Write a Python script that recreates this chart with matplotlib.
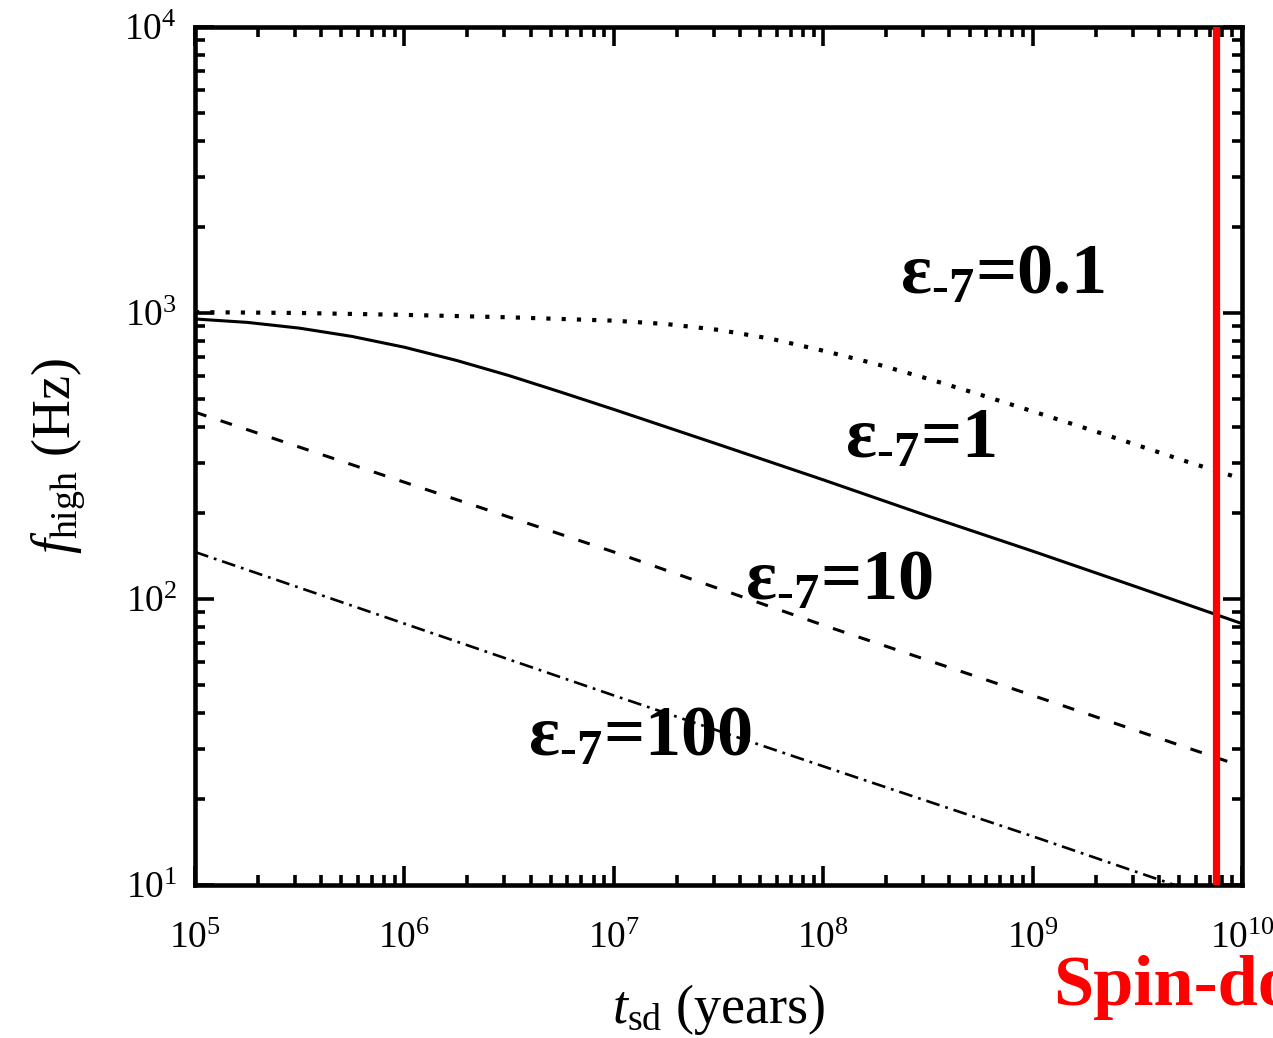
import numpy as np
import matplotlib
matplotlib.use("Agg")
import matplotlib.pyplot as plt
from matplotlib.ticker import LogLocator, NullFormatter

# spin-down time (years) and f_high (Hz)
t_eps01 = [1e5, 3.16e5, 1e6, 3.16e6, 1e7, 1.78e7, 3.16e7, 5.62e7, 1e8, 1.78e8,
           3.16e8, 5.62e8, 1e9, 1.78e9, 3.16e9, 5.62e9, 1e10]
f_eps01 = [1007, 1000, 985, 966, 940, 915, 873, 813, 738, 664,
           589, 518, 453, 396, 345, 300, 263]

t_eps1 = [1e5, 1.78e5, 3.16e5, 5.62e5, 1e6, 1.78e6, 3.16e6, 5.62e6, 1e7,
          3.16e7, 1e8, 3.16e8, 1e9, 3.16e9, 1e10]
f_eps1 = [953, 927, 885, 828, 759, 682, 604, 528, 460,
          347, 261, 195, 147, 110, 82]

t_eps10 = [1e5, 1e6, 1e7, 1e8, 1e9, 1e10]
f_eps10 = [450, 256, 146, 81, 46, 26]

t_eps100 = [1e5, 1e6, 1e7, 1e8, 1e9, 1e10]
f_eps100 = [146, 82, 46, 26, 14.8, 8.3]

t_spindown = 7.5e9

labels = ["0.1", "1", "10", "100"]
label_pos = [(2.33e8, 1170), (1.27e8, 313), (4.24e7, 99.6), (3.89e6, 28.4)]

plt.rcParams["font.family"] = ["Liberation Serif", "DejaVu Serif"]
plt.rcParams["mathtext.fontset"] = "custom"
plt.rcParams["mathtext.rm"] = "Liberation Serif"
plt.rcParams["mathtext.it"] = "Liberation Serif:italic"
plt.rcParams["mathtext.bf"] = "Liberation Serif:bold"
plt.rcParams["lines.scale_dashes"] = False

fig = plt.figure(figsize=(12.73, 10.38), dpi=100)
ax = fig.add_axes([0.1532, 0.1474, 0.8225, 0.8266])

ax.plot(t_eps01, f_eps01, color="black", lw=3.0, linestyle=(0, (3.0, 8.0)))
ax.plot(t_eps1, f_eps1, color="black", lw=2.2)
ax.plot(t_eps10, f_eps10, color="black", lw=2.2, linestyle=(0, (8.6, 10.8)))
ax.plot(t_eps100, f_eps100, color="black", lw=1.9,
        linestyle=(0, (10.0, 4.3, 2.0, 4.3)))

ax.axvline(t_spindown, color="#ff0000", lw=5.2, zorder=5)

ax.set_xscale("log")
ax.set_yscale("log")
ax.set_xlim(1e5, 1e10)
ax.set_ylim(10, 1e4)

for axis in (ax.xaxis, ax.yaxis):
    axis.set_major_locator(LogLocator(base=10, numticks=20))
    axis.set_minor_locator(LogLocator(base=10, subs=np.arange(2, 10), numticks=20))
    axis.set_minor_formatter(NullFormatter())

for s in ax.spines.values():
    s.set_linewidth(3.3)

ax.tick_params(which="both", direction="in", top=True, right=True, labelsize=27)
ax.tick_params(which="major", length=14, width=2.6)
ax.tick_params(which="minor", length=7.5, width=2.6)
ax.tick_params(axis="x", which="major", pad=26)
ax.tick_params(axis="y", which="major", pad=13)

ax.set_xlabel(r"$t_{\mathrm{sd}}$ (years)", fontsize=39, labelpad=19)
ax.set_ylabel(r"$f_{\mathrm{high}}$ (Hz)", fontsize=39, labelpad=26)

for lab, (x, y) in zip(labels, label_pos):
    ax.text(x, y, "ε$_{\\mathbf{\u20107}}$=" + lab, fontsize=52,
            fontweight="bold", va="baseline", ha="left", zorder=6)

# reference shows this label running off the right edge
fig.text(1053 / 1273, 1 - 1005 / 1038, "Spin-down", color="#ff0000",
         fontsize=52, fontweight="bold", va="baseline", ha="left")

fig.savefig("out.png", dpi=100)
